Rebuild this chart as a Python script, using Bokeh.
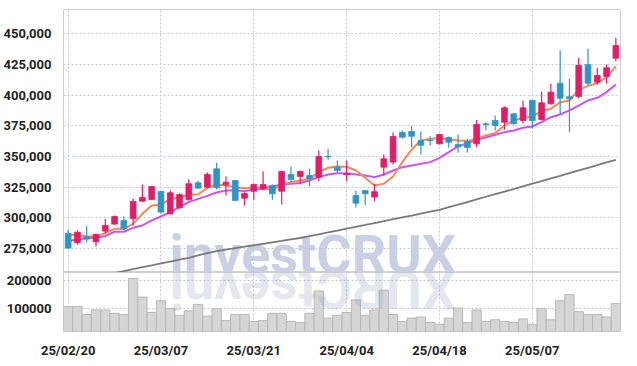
import math
from bokeh.plotting import figure
from bokeh.layouts import column
from bokeh.models import ColumnDataSource, FixedTicker, NumeralTickFormatter, Range1d, Label, Grid
from bokeh.embed import file_html
from bokeh.resources import INLINE

dates = ["25/02/20", "25/02/21", "25/02/24", "25/02/25", "25/02/26", "25/02/27", "25/02/28",
         "25/03/04", "25/03/05", "25/03/06", "25/03/07", "25/03/10", "25/03/11", "25/03/12",
         "25/03/13", "25/03/14", "25/03/17", "25/03/18", "25/03/19", "25/03/20", "25/03/21",
         "25/03/24", "25/03/25", "25/03/26", "25/03/27", "25/03/28", "25/03/31", "25/04/01",
         "25/04/02", "25/04/03", "25/04/04", "25/04/07", "25/04/08", "25/04/09", "25/04/10",
         "25/04/11", "25/04/14", "25/04/15", "25/04/16", "25/04/17", "25/04/18", "25/04/21",
         "25/04/22", "25/04/23", "25/04/24", "25/04/25", "25/04/28", "25/04/29", "25/04/30",
         "25/05/02", "25/05/07", "25/05/08", "25/05/09", "25/05/12", "25/05/13", "25/05/14",
         "25/05/15", "25/05/16", "25/05/19", "25/05/20"]

opens = [287500, 279800, 284700, 280600, 289300, 295000, 298000, 299400, 313700, 315100,
         321600, 303400, 308300, 314800, 328700, 325100, 340000, 327000, 330500, 316100,
         321800, 323500, 326500, 321800, 335400, 333800, 334600, 333200, 350300, 341400,
         335200, 318300, 322400, 317000, 341400, 345500, 369600, 370400, 363100, 363400,
         360400, 365600, 359900, 362300, 360400, 376700, 379400, 378000, 384800, 379400,
         395700, 380200, 393000, 409800, 398700, 399000, 425000, 410600, 415200, 430100]
highs = [290400, 289800, 293300, 287300, 299300, 302000, 301200, 315600, 327300, 326000,
         322000, 322400, 320200, 331600, 330300, 337000, 344900, 334000, 331000, 321000,
         327800, 338100, 327300, 338500, 342000, 338400, 340000, 355000, 356400, 346800,
         346800, 322400, 322800, 327900, 351700, 369600, 371300, 374800, 370400, 366600,
         368600, 366400, 368000, 364500, 379900, 378000, 383500, 390800, 385400, 395700,
         396200, 403000, 409300, 436400, 413400, 430500, 437800, 422300, 425000, 446700]
lows = [275000, 278200, 280300, 276800, 287600, 294500, 289800, 293900, 313000, 314500,
        303400, 302900, 307500, 314300, 323800, 324300, 323200, 318300, 314000, 310200,
        314800, 322400, 314800, 311000, 329200, 327300, 325700, 330000, 347400, 336800,
        330000, 308600, 310200, 313700, 334600, 343600, 364700, 357700, 351700, 359000,
        360000, 357200, 353400, 353400, 357700, 371500, 371300, 371800, 376100, 377000,
        372600, 379400, 392400, 384900, 369900, 397300, 407900, 408700, 409300, 427400]
closes = [275500, 288400, 283100, 286600, 293900, 301200, 291200, 313500, 316700, 325700,
          304800, 320500, 319100, 327900, 324300, 335400, 324600, 329200, 314300, 320000,
          327300, 327300, 319700, 337900, 331400, 337900, 332200, 350100, 349800, 338700,
          336000, 312100, 319700, 321400, 348200, 366400, 365800, 366600, 359300, 362900,
          368000, 361700, 358000, 357400, 376100, 376100, 375300, 389700, 376700, 389700,
          379400, 393800, 402500, 397600, 397100, 424200, 409800, 416100, 422300, 440500]
volumes = [105000, 106000, 77000, 93000, 93000, 81000, 77000, 206000, 139000, 84000,
           126000, 98000, 74000, 90000, 113000, 71000, 97000, 55000, 77000, 77000,
           52000, 55000, 81000, 81000, 52000, 48000, 81000, 161000, 64000, 74000,
           84000, 129000, 74000, 93000, 164000, 77000, 52000, 64000, 68000, 48000,
           42000, 64000, 100000, 48000, 93000, 52000, 58000, 52000, 48000, 61000,
           42000, 98000, 58000, 126000, 148000, 87000, 77000, 77000, 68000, 116000]
ma5 = [286600, 286000, 285200, 285000, 287600, 291200, 291200, 295200, 303400, 310200,
       310700, 315600, 316500, 319100, 319100, 324500, 327300, 326500, 325100, 324300,
       324600, 324600, 322400, 327300, 329200, 330600, 331900, 337300, 340900, 342000,
       341700, 338700, 332700, 326500, 327900, 333800, 345500, 355600, 363100, 364500,
       365000, 363900, 363100, 362600, 364500, 367200, 369100, 375300, 379400, 381600,
       382700, 387000, 388900, 394300, 395700, 404400, 407600, 409800, 414600, 423400]
ma20 = [281100, 282700, 283200, 284100, 285200, 288800, 288800, 292000, 293900, 298000,
        301200, 304700, 308800, 312900, 315600, 318000, 320800, 322400, 322400, 321900,
        322700, 324400, 325600, 327300, 327900, 328500, 330600, 333300, 335400, 336500,
        336500, 335400, 334600, 333200, 335400, 338700, 341400, 342800, 344100, 345500,
        349000, 353600, 358300, 360900, 363700, 365500, 367800, 369900, 371300, 373500,
        374500, 378000, 382100, 384300, 387600, 391600, 395700, 397900, 402500, 408700]
ma120 = [247000, 248800, 250600, 252300, 254000, 255200, 256700, 258300, 259900, 261400,
         263000, 264500, 266000, 267500, 269500, 271300, 273000, 274300, 275500, 276700,
         277800, 279000, 280200, 281300, 282500, 283700, 285200, 286700, 288200, 289800,
         291300, 292800, 294300, 295900, 297400, 299000, 300500, 302000, 303600, 305100,
         306700, 308800, 310900, 313000, 315100, 317300, 319400, 321500, 323600, 325800,
         327900, 330000, 332200, 334300, 336500, 338700, 340900, 343000, 345200, 347400]
price_ticks = [275000, 300000, 325000, 350000, 375000, 400000, 425000, 450000]
volume_ticks = [100000, 200000]
watermark = "investCRUX"

UP = "#e31c6a"
DOWN = "#2f95c6"
FONT = "Roboto"
FSIZE = "13px"
GRID = "#c3c9db"

idx = list(range(len(dates)))
label_idx = idx[::10]
colors = [UP if c >= o else DOWN for o, c in zip(opens, closes)]
src = ColumnDataSource(dict(x=idx, open=opens, close=closes, high=highs, low=lows,
                            color=colors, vol=volumes, ma5=ma5, ma20=ma20, ma120=ma120))

xr = Range1d(-0.5, len(dates) - 0.5)

p = figure(width=625, height=272, x_range=xr, y_range=Range1d(255600, 469800),
           output_backend="svg", toolbar_location=None, x_axis_location=None,
           min_border_left=56, min_border_right=5, min_border_top=9, min_border_bottom=0)
p.outline_line_color = "#d0d0d0"
p.background_fill_color = "white"
p.border_fill_color = "white"
p.xgrid.grid_line_color = None
p.add_layout(Grid(dimension=0, ticker=FixedTicker(ticks=label_idx), grid_line_color=GRID,
                  grid_line_dash="2 2"))
p.yaxis.ticker = FixedTicker(ticks=price_ticks)
p.yaxis.formatter = NumeralTickFormatter(format="0,0")
p.ygrid.grid_line_color = GRID
p.ygrid.grid_line_dash = "2 2"
for ax in p.yaxis:
    ax.axis_line_color = None
    ax.major_tick_line_color = None
    ax.minor_tick_line_color = None
    ax.major_label_standoff = 6
    ax.major_label_text_font = FONT
    ax.major_label_text_font_style = "bold"
    ax.major_label_text_font_size = FSIZE
    ax.major_label_text_color = "#222222"

# watermark (centered on the plot, sitting on the panel divider)
p.add_layout(Label(x=26.36, y=270600, text=watermark, text_font="Roboto",
                   text_font_style="bold", text_font_size="54px", text_color="#c9d0e4",
                   text_align="center", text_baseline="middle", level="image"))

p.line("x", "ma120", source=src, color="#7a7a7a", line_width=1.8)
p.line("x", "ma20", source=src, color="#cc55ee", line_width=2)
p.line("x", "ma5", source=src, color="#f08a5a", line_width=2)
p.segment(x0="x", y0="high", x1="x", y1="low", source=src, color="color", line_width=1.2)
p.vbar(x="x", width=0.62, top="open", bottom="close", source=src,
       fill_color="color", line_color="color", line_width=0.8)

q = figure(width=625, height=88, x_range=xr, y_range=Range1d(16000, 227000),
           output_backend="svg", toolbar_location=None,
           min_border_left=56, min_border_right=5, min_border_top=0, min_border_bottom=23)
q.outline_line_color = "#d0d0d0"
q.background_fill_color = "white"
q.border_fill_color = "white"
q.xaxis.ticker = FixedTicker(ticks=label_idx)
q.xaxis.major_label_overrides = {i: dates[i] for i in label_idx}
q.yaxis.ticker = FixedTicker(ticks=volume_ticks)
q.yaxis.formatter = NumeralTickFormatter(format="0")
q.xgrid.grid_line_color = GRID
q.xgrid.grid_line_dash = "2 2"
q.ygrid.grid_line_color = GRID
q.ygrid.grid_line_dash = "2 2"
for ax in list(q.xaxis) + list(q.yaxis):
    ax.axis_line_color = None
    ax.major_tick_line_color = None
    ax.minor_tick_line_color = None
    ax.major_label_text_font = FONT
    ax.major_label_text_font_style = "bold"
    ax.major_label_text_font_size = FSIZE
    ax.major_label_text_color = "#222222"
q.yaxis.major_label_standoff = 6
q.xaxis.major_label_standoff = 5

q.vbar(x="x", width=1.0, top="vol", bottom=0, source=src,
       fill_color="#d6d6d6", line_color="#b8b8b8", line_width=1)
# mirrored reflection of the watermark
q.add_layout(Label(x=26.36, y=166900, text=watermark[::-1], angle=math.pi,
                   text_font="Roboto", text_font_style="bold", text_font_size="54px",
                   text_color="#8890b8", text_alpha=0.22, text_align="center",
                   text_baseline="middle"))

layout = column(p, q, spacing=0)
open("out.html", "w").write(file_html(layout, INLINE))
